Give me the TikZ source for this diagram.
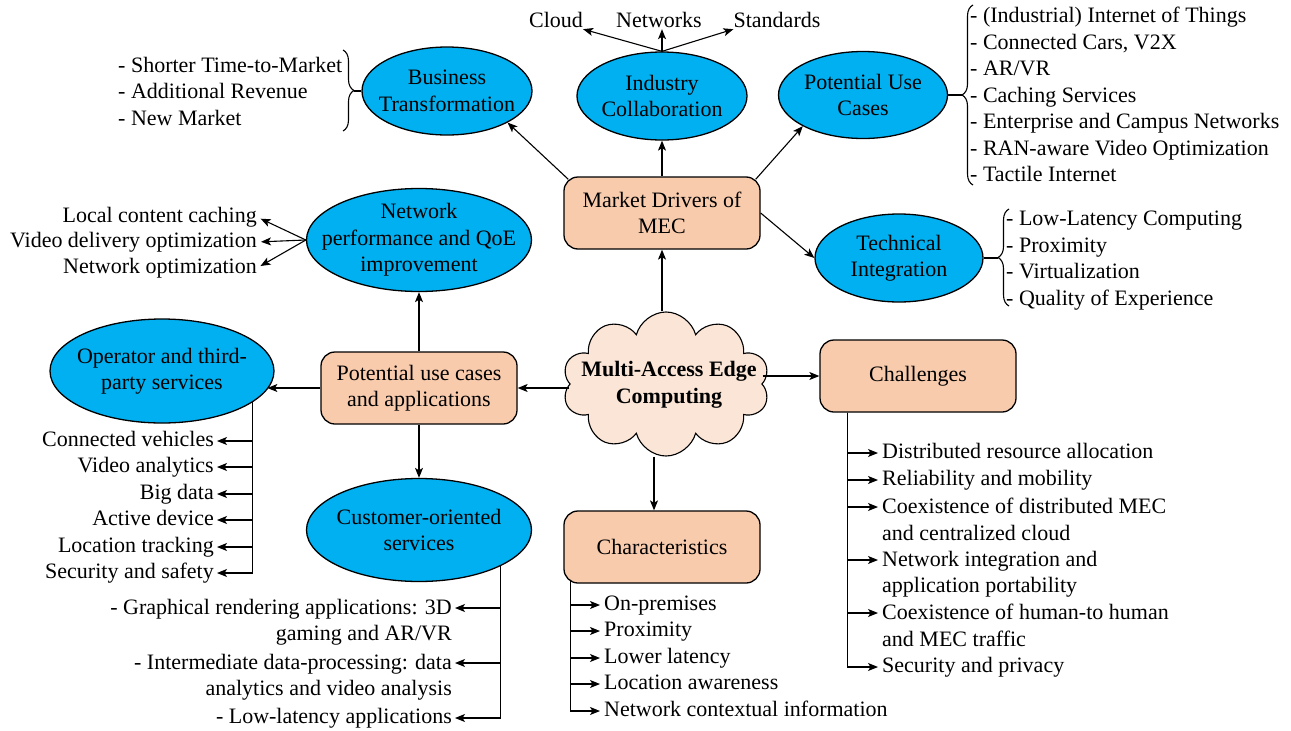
\documentclass[tikz,border=0pt]{standalone}
\usepackage{fontspec}
\setmainfont{Liberation Serif}
\usetikzlibrary{shapes.geometric,shapes.symbols,decorations.pathreplacing,calc,arrows.meta}
\definecolor{mecblue}{HTML}{00B0F0}
\definecolor{mecbox}{HTML}{F8CBAD}
\definecolor{meccloud}{HTML}{FBE5D6}

\begin{document}
\begin{tikzpicture}[x=1pt,y=-1pt,
	font=\fontsize{22}{26.5}\selectfont,
	>={Stealth[length=10pt,width=8pt,inset=2.5pt]},
	oval/.style={ellipse,draw,line width=1.3pt,fill=mecblue,inner xsep=-25pt,inner ysep=-15pt,align=center},
	block/.style={rectangle,rounded corners=14pt,draw,line width=1.3pt,fill=mecbox,minimum width=196pt,minimum height=72pt,align=center},
	entry/.style={inner sep=0pt,text height=12pt,text depth=2pt},
	multi/.style={inner sep=0pt},
	link/.style={->,line width=1.1pt},
	stub/.style={line width=1.8pt},
	curly/.style={decorate,decoration={brace,amplitude=11pt},line width=1.1pt}]
\useasboundingbox (0,0) rectangle (1291,731);

%----------------------------
% Centre: MEC cloud
%----------------------------
\node[cloud,cloud puffs=10,cloud ignores aspect,draw,fill=meccloud,line width=1.1pt,
	minimum width=207pt,minimum height=144pt] (mec) at (666,384) {};
\node[align=center,inner sep=0pt,font=\fontsize{22}{26.5}\selectfont\bfseries] (mectxt) at (669,385)
	{Multi-Access Edge\\Computing};

%----------------------------
% Top: market drivers
%----------------------------
\node[block] (mkt) at (662,213) {Market Drivers of\\MEC};
\node[oval,minimum width=170pt,minimum height=88pt] (ind) at (662,96) {Industry\\Collaboration};
\node[oval,minimum width=170pt,minimum height=88pt] (bus) at (447,91) {Business\\Transformation};
\node[oval,minimum width=169pt,minimum height=87pt] (usecase) at (863,95) {Potential Use\\Cases};
\node[oval,minimum width=168pt,minimum height=88pt] (tech) at (899,258) {Technical\\Integration};

% collaboration targets
\node[entry] (cld) at (556,22) {Cloud};
\node[entry] (net) at (659,22) {Networks};
\node[entry] (std) at (777,22) {Standards};
\draw[link] (ind.north) -- (cld.south east);
\draw[link] (ind.north) -- (ind.north |- net.south);
\draw[link] (ind.north) -- (std.south west);

\draw[link] (mec.north -| mkt.south) -- (mkt.south);
\draw[link] (mkt.north) -- (ind.south);
\draw[link] ([xshift=5pt,yshift=-3pt]mkt.north west) -- (bus.south east);
\draw[link] ([xshift=-5pt,yshift=-3pt]mkt.north east) -- (usecase.south west);
\draw[link] (mkt.east) -- (tech.west);

% brace lists
\node[multi,anchor=north west,align=left] (buslist) at (118,57)
	{- Shorter Time-to-Market\\- Additional Revenue\\- New Market};
\draw[curly] (343,50) -- (343,131);
\coordinate (bustip) at (354,91);
\draw[stub] (bustip) -- (bus.west);

\node[multi,anchor=north west,align=left] (uselist) at (970,7)
	{- (Industrial) Internet of Things\\- Connected Cars, V2X\\- AR/VR\\- Caching Services\\
	 - Enterprise and Campus Networks\\- RAN-aware Video Optimization\\- Tactile Internet};
\draw[curly] (973,185) -- (973,5);
\coordinate (usetip) at (962,95);
\draw[stub] (usecase.east) -- (usetip);

\node[multi,anchor=north west,align=left] (techlist) at (1006,211)
	{- Low-Latency Computing\\- Proximity\\- Virtualization\\- Quality of Experience};
\draw[curly] (1009,306) -- (1009,209);
\coordinate (techtip) at (998,258);
\draw[stub] (tech.east) -- (techtip);

%----------------------------
% Left: use cases and applications
%----------------------------
\node[block] (apps) at (419,388) {Potential use cases\\and applications};
\draw[link] (mec.west |- apps.east) -- (apps.east);

\node[oval,minimum width=225pt,minimum height=103pt] (qoe) at (419,240)
	{Network\\performance and QoE\\improvement};
\draw[link] (apps.north) -- (qoe.south);
\node[entry,anchor=east] (lcc) at (257,217) {Local content caching};
\node[entry,anchor=east] (vdo) at (257,242) {Video delivery optimization};
\node[entry,anchor=east] (nopt) at (257,268) {Network optimization};
\foreach \n in {lcc,vdo,nopt}
	\draw[link,shorten >=4pt] (qoe.west) -- (\n.east);

\node[oval,minimum width=224pt,minimum height=104pt] (op) at (162,371)
	{Operator and third-\\party services};
\draw[link] (apps.west) -- (apps.west -| op.-10);
\node[entry,anchor=east] (o1) at (214,441) {Connected vehicles};
\node[entry,anchor=east] (o2) at (214,467) {Video analytics};
\node[entry,anchor=east] (o3) at (214,494) {Big data};
\node[entry,anchor=east] (o4) at (214,520) {Active device};
\node[entry,anchor=east] (o5) at (214,547) {Location tracking};
\node[entry,anchor=east] (o6) at (214,573) {Security and safety};
\foreach \n in {o1,o2,o3,o4,o5,o6}
	\draw[link,shorten >=3pt] (op.-19) |- (\n.east);

\node[oval,minimum width=225pt,minimum height=103pt] (cus) at (419,530)
	{Customer-oriented\\services};
\draw[link] (apps.south) -- (cus.north);
\node[multi,anchor=north east,align=right] (c1) at (452,599)
	{- Graphical rendering applications: 3D\\gaming and AR/VR};
\node[multi,anchor=north east,align=right] (c2) at (452,654)
	{- Intermediate data-processing: data\\analytics and video analysis};
\node[entry,anchor=east] (c3) at (452,718) {- Low-latency applications};
\draw[link,shorten >=3pt] (cus.-24) |- ($(c1.north east)+(0,9)$);
\draw[link,shorten >=3pt] (cus.-24) |- ($(c2.north east)+(0,9)$);
\draw[link,shorten >=3pt] (cus.-24) |- (c3.east);

%----------------------------
% Bottom: characteristics
%----------------------------
\node[block] (chars) at (662,547) {Characteristics};
\draw[link] ([xshift=-12pt]mec.south) -- ([xshift=-12pt]mec.south |- chars.north);
\coordinate (charspine) at ([xshift=7pt,yshift=3pt]chars.south west);
\node[entry,anchor=west] (h1) at (604,605) {On-premises};
\node[entry,anchor=west] (h2) at (604,631) {Proximity};
\node[entry,anchor=west] (h3) at (604,658) {Lower latency};
\node[entry,anchor=west] (h4) at (604,684) {Location awareness};
\node[entry,anchor=west] (h5) at (604,711) {Network contextual information};
\foreach \n in {h1,h2,h3,h4,h5}
	\draw[link,shorten >=4pt] (charspine) |- (\n.west);

%----------------------------
% Right: challenges
%----------------------------
\node[block] (chal) at (918,376) {Challenges};
\draw[link] (mec.east |- chal.west) -- (chal.west);
\coordinate (chalspine) at ([xshift=28pt]chal.south west);
\node[entry,anchor=west] (r1) at (882,453) {Distributed resource allocation};
\node[entry,anchor=west] (r2) at (882,480) {Reliability and mobility};
\node[multi,anchor=north west,align=left] (r3) at (882,498)
	{Coexistence of distributed MEC\\and centralized cloud};
\node[multi,anchor=north west,align=left] (r4) at (882,551)
	{Network integration and\\application portability};
\node[multi,anchor=north west,align=left] (r5) at (882,604)
	{Coexistence of human-to human\\and MEC traffic};
\node[entry,anchor=west] (r6) at (882,667) {Security and privacy};
\draw[link,shorten >=4pt] (chalspine) |- (r1.west);
\draw[link,shorten >=4pt] (chalspine) |- (r2.west);
\draw[link,shorten >=4pt] (chalspine) |- ($(r3.north west)+(0,9)$);
\draw[link,shorten >=4pt] (chalspine) |- ($(r4.north west)+(0,9)$);
\draw[link,shorten >=4pt] (chalspine) |- ($(r5.north west)+(0,9)$);
\draw[link,shorten >=4pt] (chalspine) |- (r6.west);

\end{tikzpicture}
\end{document}
